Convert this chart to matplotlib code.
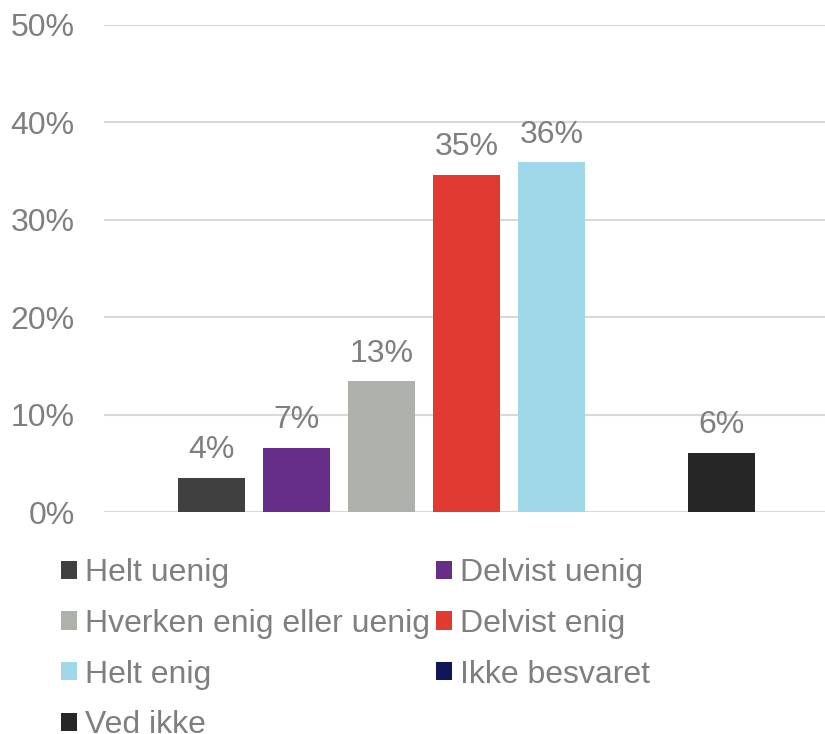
import matplotlib
matplotlib.use("Agg")
import matplotlib.pyplot as plt
from matplotlib.patches import Patch

plt.rcParams["font.family"] = ["Liberation Sans", "DejaVu Sans"]

# svarkategorier og andele (%)
categories = ["Helt uenig", "Delvist uenig", "Hverken enig eller uenig", "Delvist enig",
              "Helt enig", "Ikke besvaret", "Ved ikke"]
values = [3.5, 6.6, 13.4, 34.6, 35.9, 0.0, 6.1]
labels = ["4%", "7%", "13%", "35%", "36%", "", "6%"]
colors = ["#404040", "#662D89", "#ADB1AA", "#E03A31", "#A0D8EA", "#0F1659", "#262626"]
yticks = [0, 10, 20, 30, 40, 50]

grey = "#7F7F7F"
fs = 23

fig = plt.figure(figsize=(8.25, 7.34), dpi=100)
ax = fig.add_axes([104 / 825, (734 - 512) / 734, 722 / 825, (512 - 25) / 734])

x = list(range(len(categories)))
bars = ax.bar(x, values, width=0.79, color=colors, zorder=3)
for b, lab in zip(bars, labels):
    if lab:
        ax.text(b.get_x() + b.get_width() / 2, b.get_height() + 1.3, lab,
                ha="center", va="bottom", fontsize=fs, color=grey)

ax.set_xlim(-1.265, 6 + 1.23)
ax.set_ylim(0, 50)
ax.set_yticks(yticks)
ax.set_yticklabels([f"{t}%" for t in yticks], fontsize=fs, color=grey)
ax.set_xticks([])
ax.tick_params(axis="y", length=0, pad=21)
ax.grid(axis="y", color="#D9D9D9", linewidth=1.5, zorder=0)
for s in ax.spines.values():
    s.set_visible(False)

# legenden fylles kolonnevis, så rekkefølgen byttes om
order = [0, 2, 4, 6, 1, 3, 5]
handles = [Patch(facecolor=colors[i], edgecolor="none") for i in order]
fig.legend(handles, [categories[i] for i in order], ncol=2, loc="upper left",
           bbox_to_anchor=(61 / 825, 1 - 558 / 734), frameon=False, fontsize=fs,
           labelcolor=grey, handlelength=0.5, handleheight=0.5, handletextpad=0.25,
           columnspacing=0.2, labelspacing=0.65, borderpad=0, borderaxespad=0)

fig.savefig("out.png", dpi=100)
